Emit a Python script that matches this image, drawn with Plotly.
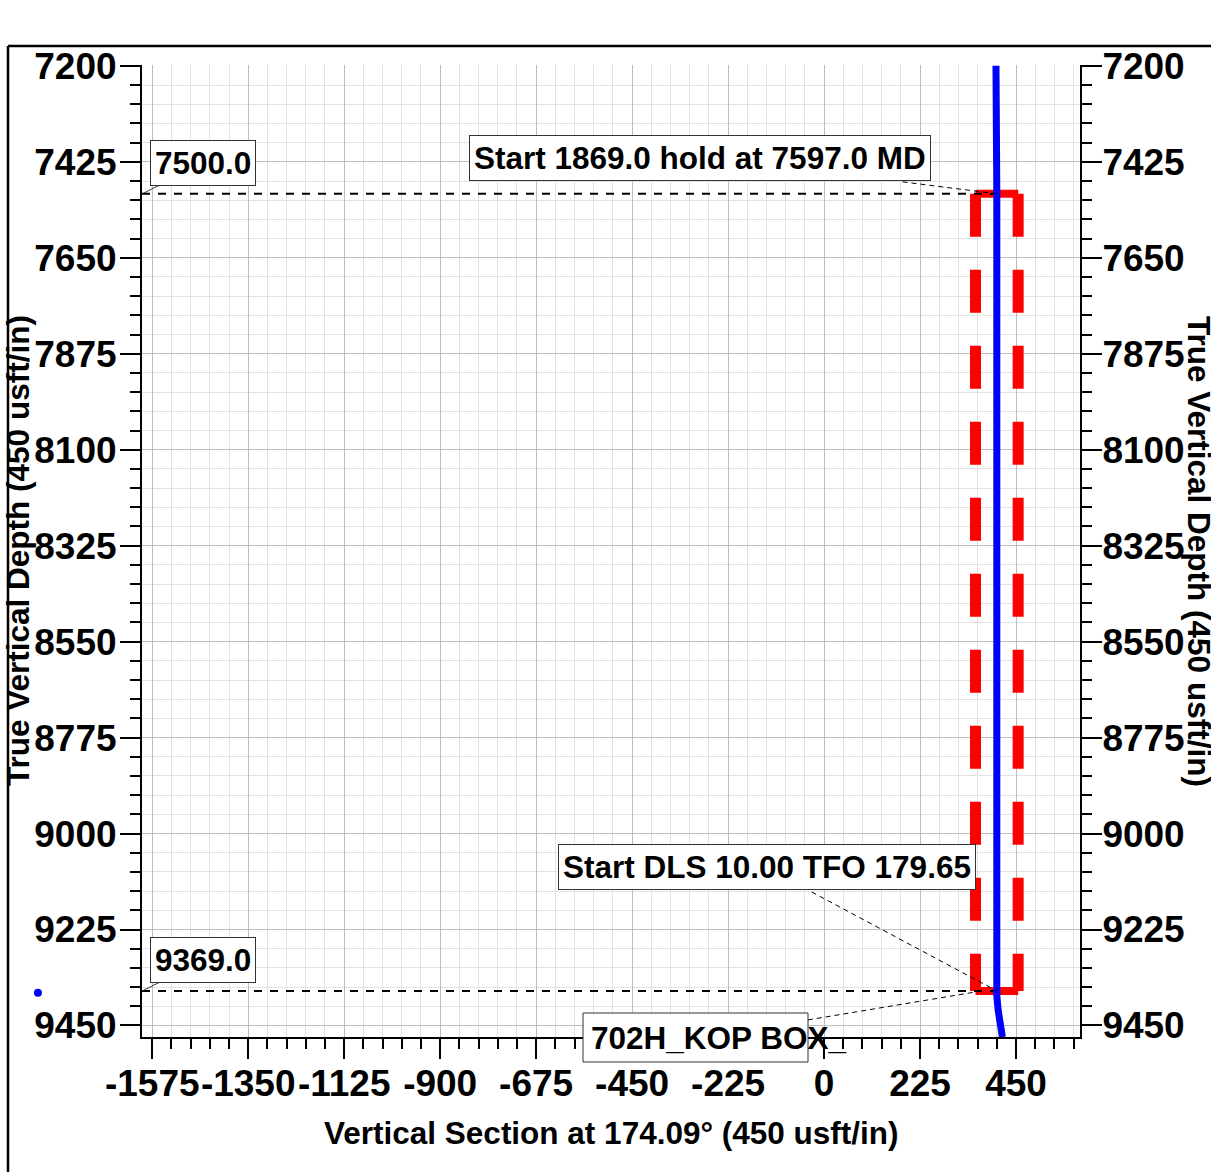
import plotly.graph_objects as go

# ---------------- data ----------------
# well path (vertical section vs true vertical depth)
vs = [403, 404, 405, 405, 404, 405, 408, 413, 418]
tvd = [7200, 7350, 7500, 8400, 9300, 9380, 9413, 9452, 9477]

# KOP box (dashed red rectangle)
box_vs = [355, 455]
box_tvd = [7500.0, 9369.0]

# stray survey marker
dot_vs = [-1843]
dot_tvd = [9373]

# axis ticks
x_tickvals = [-1575, -1350, -1125, -900, -675, -450, -225, 0, 225, 450]
x_ticktext = ["-1575", "-1350", "-1125", "-900", "-675", "-450", "-225", "0", "225", "450"]
y_tickvals = [7200, 7425, 7650, 7875, 8100, 8325, 8550, 8775, 9000, 9225, 9450]
y_ticktext = [str(v) for v in y_tickvals]

# callouts
callout_hold = "Start 1869.0 hold at 7597.0 MD"
callout_dls = "Start DLS 10.00 TFO 179.65"
callout_box = "702H_KOP BOX_"
hold_pos = (-290, 7415)
dls_pos = (-133, 9078)

# ---------------- layout geometry ----------------
W, H = 1211, 1172
L, R, T, B = 142, 1080, 65, 1037
XR = [-1599, 600]
YR = [9477, 7198]


def pxx(px):
    return (px - L) / (R - L)


def pxy(py):
    return (B - py) / (B - T)


def dx2paper(v):
    return (v - XR[0]) / (XR[1] - XR[0])


def dy2paper(v):
    return (v - YR[0]) / (YR[1] - YR[0])


FONT = "Liberation Sans, Arial, Helvetica, sans-serif"
tickfont = dict(family=FONT, size=37, color="black", weight="bold")
textfont = dict(family=FONT, size=31.5, color="black", weight="bold")

fig = go.Figure()
fig.add_trace(go.Scatter(x=vs, y=tvd, mode="lines",
                         line=dict(color="#0000ff", width=7),
                         showlegend=False, hoverinfo="skip"))
# invisible trace to activate the right axis
fig.add_trace(go.Scatter(x=[vs[0]], y=[tvd[0]], yaxis="y2", mode="markers",
                         marker=dict(opacity=0), showlegend=False, hoverinfo="skip"))

shapes = []
# red dashed KOP box
red = "#ff0000"
shapes.append(dict(type="line", xref="x", yref="y", layer="between",
                   x0=box_vs[0], x1=box_vs[1], y0=box_tvd[0], y1=box_tvd[0],
                   line=dict(color=red, width=8)))
shapes.append(dict(type="line", xref="x", yref="y", layer="between",
                   x0=box_vs[0], x1=box_vs[1], y0=box_tvd[1], y1=box_tvd[1],
                   line=dict(color=red, width=8)))
for xv in box_vs:
    shapes.append(dict(type="line", xref="x", yref="y", layer="between",
                       x0=xv, x1=xv, y0=box_tvd[0], y1=box_tvd[1],
                       line=dict(color=red, width=11, dash="43px,33px")))
# black dashed reference lines at box top / bottom
for yv in box_tvd:
    shapes.append(dict(type="line", xref="x", yref="y", layer="between",
                       x0=XR[0], x1=vs[2], y0=yv, y1=yv,
                       line=dict(color="black", width=2, dash="8px,8px")))
# leader lines
leaders = [
    ((184, 7472), (vs[2], box_tvd[0])),
    ((-29, 9137), (vs[2], box_tvd[1])),
    ((-38, 9437), (370, box_tvd[1])),
]
for (a, b) in leaders:
    shapes.append(dict(type="line", xref="x", yref="y", layer="above",
                       x0=a[0], y0=a[1], x1=b[0], y1=b[1],
                       line=dict(color="black", width=1, dash="5px,4px")))
# box behind "702H_KOP BOX_"
shapes.append(dict(type="rect", xref="paper", yref="paper", layer="above",
                   x0=pxx(583), x1=pxx(808), y0=pxy(1062), y1=pxy(1013),
                   fillcolor="white", line=dict(color="#333333", width=1)))
# stray survey marker (outside the plot area, so placed through paper coords)
for xv, yv in zip(dot_vs, dot_tvd):
    cx, cy = dx2paper(xv), dy2paper(yv)
    rx, ry = 4 / (R - L), 4 / (B - T)
    shapes.append(dict(type="circle", xref="paper", yref="paper", layer="above",
                       x0=cx - rx, x1=cx + rx, y0=cy - ry, y1=cy + ry,
                       fillcolor="#0000ff", line=dict(color="#0000ff", width=0)))
# outer frame
shapes.append(dict(type="line", xref="paper", yref="paper", layer="above",
                   x0=pxx(8), x1=pxx(8), y0=pxy(46), y1=pxy(1200),
                   line=dict(color="black", width=2.5)))
shapes.append(dict(type="line", xref="paper", yref="paper", layer="above",
                   x0=pxx(8), x1=pxx(1230), y0=pxy(46), y1=pxy(46),
                   line=dict(color="black", width=2.5)))

annotations = []
# depth tags with short leader
for yv in box_tvd:
    annotations.append(dict(x=XR[0] + 1, y=yv, xref="x", yref="y",
                            text=f"{yv:.1f}", showarrow=True, arrowhead=0,
                            arrowwidth=1, arrowcolor="#333333", ax=61, ay=-31,
                            font=textfont, bgcolor="white", bordercolor="#333333",
                            borderwidth=1, borderpad=4))
annotations.append(dict(x=hold_pos[0], y=hold_pos[1], xref="x", yref="y",
                        text=callout_hold, showarrow=False, font=textfont,
                        bgcolor="white", bordercolor="#333333", borderwidth=1, borderpad=4))
annotations.append(dict(x=dls_pos[0], y=dls_pos[1], xref="x", yref="y",
                        text=callout_dls, showarrow=False, font=textfont,
                        bgcolor="white", bordercolor="#333333", borderwidth=1, borderpad=4))
annotations.append(dict(x=pxx(589), y=pxy(1037.5), xref="paper", yref="paper",
                        xanchor="left", yanchor="middle",
                        text=callout_box, showarrow=False, font=textfont))
# axis titles
annotations.append(dict(x=0.5, y=pxy(1133), xref="paper", yref="paper",
                        text="Vertical Section at 174.09° (450 usft/in)",
                        showarrow=False, font=textfont, xanchor="center", yanchor="middle"))
annotations.append(dict(x=pxx(18), y=0.5, xref="paper", yref="paper",
                        text="True Vertical Depth (450 usft/in)", textangle=-90,
                        showarrow=False, font=textfont, xanchor="center", yanchor="middle"))
annotations.append(dict(x=pxx(1199), y=0.5, xref="paper", yref="paper",
                        text="True Vertical Depth (450 usft/in)", textangle=90,
                        showarrow=False, font=textfont, xanchor="center", yanchor="middle"))

major_grid = "#bdbdbd"
minor_grid = "#e2e2e2"

fig.update_layout(
    width=W, height=H,
    margin=dict(l=L, r=W - R, t=T, b=H - B, pad=0),
    paper_bgcolor="white", plot_bgcolor="white",
    showlegend=False,
    shapes=shapes, annotations=annotations,
    xaxis=dict(range=XR, autorange=False, tickmode="array",
               tickvals=x_tickvals, ticktext=x_ticktext, tickfont=tickfont,
               tickangle=0, ticklabelstandoff=-7,
               ticks="outside", ticklen=20, tickwidth=2, tickcolor="black",
               showline=True, linecolor="black", linewidth=2, mirror=False,
               zeroline=False, showgrid=True, gridcolor=major_grid, gridwidth=1,
               minor=dict(tickmode="linear", tick0=0, dtick=45, ticks="outside",
                          ticklen=10, tickwidth=1.5, tickcolor="black",
                          showgrid=True, gridcolor=minor_grid, gridwidth=1)),
    yaxis=dict(range=YR, autorange=False, tickmode="array",
               tickvals=y_tickvals, ticktext=y_ticktext, tickfont=tickfont,
               ticklabelstandoff=-4,
               ticks="outside", ticklen=20, tickwidth=2, tickcolor="black",
               showline=True, linecolor="black", linewidth=2, mirror=False,
               zeroline=False, showgrid=True, gridcolor=major_grid, gridwidth=1,
               minor=dict(tickmode="linear", tick0=0, dtick=45, ticks="outside",
                          ticklen=10, tickwidth=1.5, tickcolor="black",
                          showgrid=True, gridcolor=minor_grid, gridwidth=1)),
    yaxis2=dict(range=YR, autorange=False, overlaying="y", side="right",
                tickmode="array", tickvals=y_tickvals, ticktext=y_ticktext,
                tickfont=tickfont, ticklabelstandoff=-7,
                ticks="outside", ticklen=20, tickwidth=2,
                tickcolor="black", showline=True, linecolor="black", linewidth=2,
                zeroline=False, showgrid=False,
                minor=dict(tickmode="linear", tick0=0, dtick=45, ticks="outside",
                           ticklen=10, tickwidth=1.5, tickcolor="black", showgrid=False)),
)

fig.write_html("out.html")
